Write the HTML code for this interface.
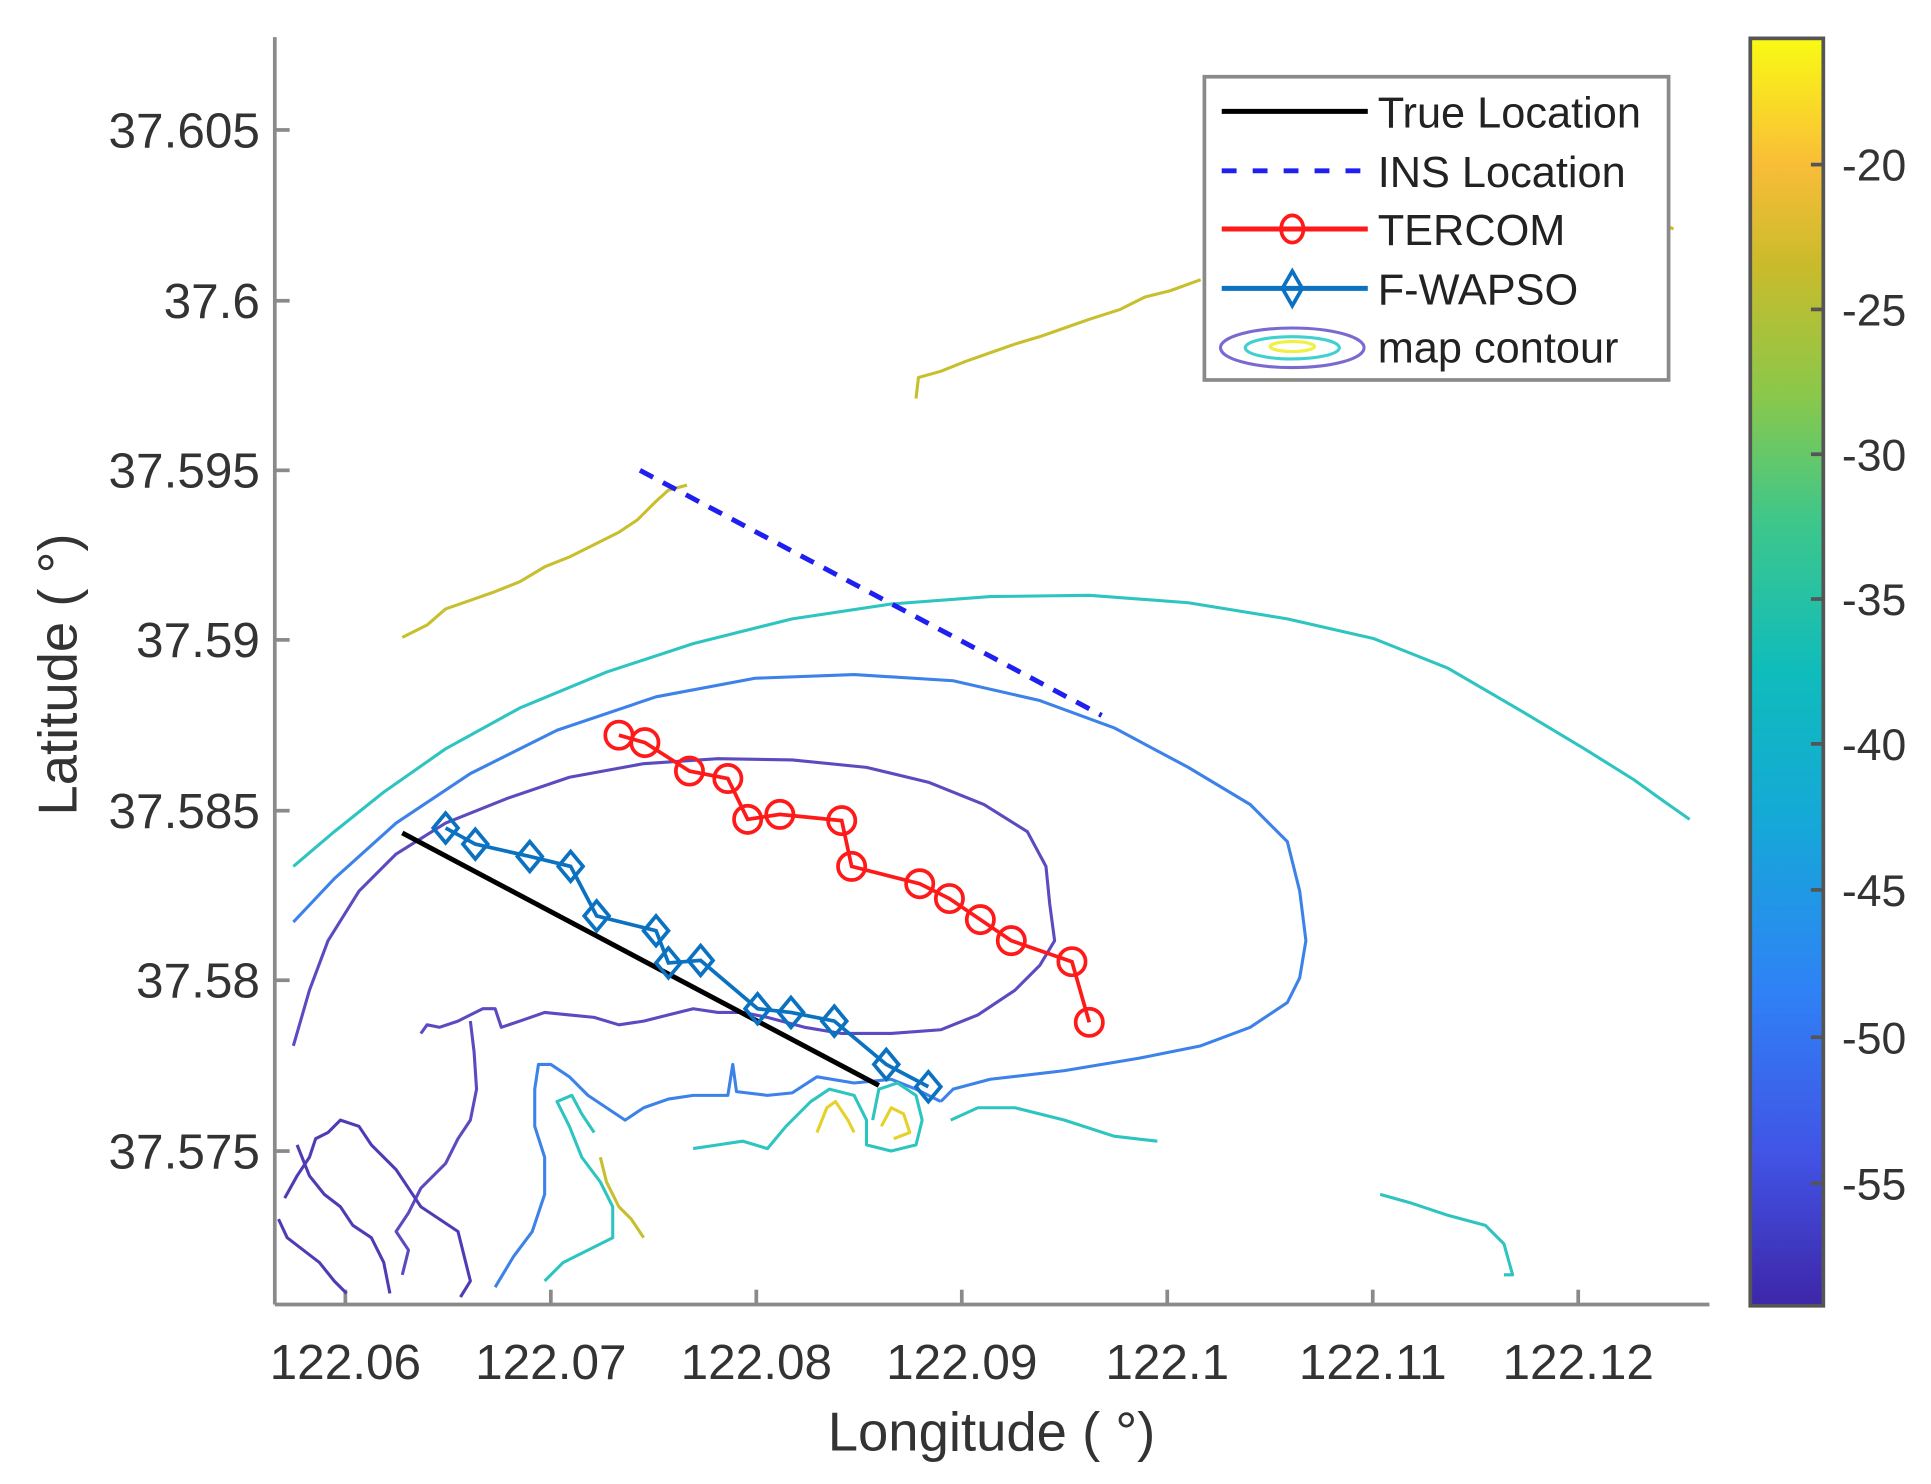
<!DOCTYPE html>
<html><head><meta charset="utf-8"><style>html,body{margin:0;padding:0;background:#fff;overflow:hidden}svg{display:block}</style></head>
<body>
<svg width="1931" height="1484" viewBox="0 0 1560 1199" preserveAspectRatio="none" xmlns="http://www.w3.org/2000/svg" font-family="Liberation Sans, sans-serif">
<defs>
<linearGradient id="parula" x1="0" y1="1" x2="0" y2="0">
<stop offset="0" stop-color="#3e26a8"/>
<stop offset="0.12" stop-color="#4154e6"/>
<stop offset="0.25" stop-color="#2f82f6"/>
<stop offset="0.38" stop-color="#15a8d8"/>
<stop offset="0.5" stop-color="#0fbcbc"/>
<stop offset="0.62" stop-color="#3ec78a"/>
<stop offset="0.72" stop-color="#8bc84a"/>
<stop offset="0.82" stop-color="#c9bb2b"/>
<stop offset="0.9" stop-color="#f9bd38"/>
<stop offset="1" stop-color="#f9fa14"/>
</linearGradient>
</defs>
<rect width="1560" height="1199" fill="#fff"/>
<g stroke="#8a8a8a" stroke-width="3" fill="none">
<line x1="222" y1="30" x2="222" y2="1054"/>
<line x1="222" y1="1054" x2="1381" y2="1054"/>
</g>
<g stroke="#8a8a8a" stroke-width="3">
<line x1="222" y1="105" x2="234" y2="105"/><line x1="222" y1="243" x2="234" y2="243"/><line x1="222" y1="380" x2="234" y2="380"/><line x1="222" y1="517" x2="234" y2="517"/><line x1="222" y1="655" x2="234" y2="655"/><line x1="222" y1="792" x2="234" y2="792"/><line x1="222" y1="930" x2="234" y2="930"/>
<line x1="279" y1="1054" x2="279" y2="1042"/><line x1="445" y1="1054" x2="445" y2="1042"/><line x1="611" y1="1054" x2="611" y2="1042"/><line x1="777" y1="1054" x2="777" y2="1042"/><line x1="943" y1="1054" x2="943" y2="1042"/><line x1="1109" y1="1054" x2="1109" y2="1042"/><line x1="1275" y1="1054" x2="1275" y2="1042"/>
</g>
<g fill="#333" font-size="40" text-anchor="end">
<text x="210" y="119">37.605</text><text x="210" y="257">37.6</text><text x="210" y="394">37.595</text><text x="210" y="531">37.59</text><text x="210" y="669">37.585</text><text x="210" y="806">37.58</text><text x="210" y="944">37.575</text>
</g>
<g fill="#333" font-size="40" text-anchor="middle">
<text x="279" y="1114">122.06</text><text x="445" y="1114">122.07</text><text x="611" y="1114">122.08</text><text x="777" y="1114">122.09</text><text x="943" y="1114">122.1</text><text x="1109" y="1114">122.11</text><text x="1275" y="1114">122.12</text>
</g>
<text x="801" y="1172" fill="#333" font-size="44" text-anchor="middle">Longitude ( °)</text>
<text transform="translate(62,545) rotate(-90)" fill="#333" font-size="44" text-anchor="middle">Latitude ( °)</text>

<g fill="none" stroke-width="2.5" stroke-linejoin="round">
<polyline stroke="#c8bf2e" points="325,515 345,505 360,492 380,485 400,478 420,470 440,458 460,450 480,440 500,430 515,420 530,405 540,396 555,392"/>
<polyline stroke="#c8bf2e" points="740,322 742,305 760,300 780,292 800,285 820,278 840,272 860,265 880,258 905,250 925,240 945,235 970,226"/>
<polyline stroke="#c8bf2e" points="1345,182 1352,185"/>
<polyline stroke="#2ec4c0" points="237,700 270,672 310,640 360,605 420,572 490,543 560,520 640,500 720,488 800,482 880,481 960,487 1040,500 1110,516 1170,540 1230,575 1280,605 1320,630 1345,648 1365,662"/>
<polyline stroke="#3d82e8" points="237,745 270,710 320,665 380,625 450,590 530,563 610,548 690,545 770,550 840,566 900,588 960,620 1010,650 1040,680 1050,720 1055,760 1050,790 1040,810 1010,830 970,845 920,855 860,865 800,872 770,880 760,890"/>
<polyline stroke="#3d82e8" points="760,890 740,880 720,872 690,875 660,870 640,883 620,885 595,882 592,860 588,885 560,885 540,888 520,895 505,905 490,895 475,885 460,870 445,860 435,860 432,880 432,910 440,935 440,965 430,995 415,1015 400,1040"/>
<polyline stroke="#5a4bc0" points="237,845 250,800 265,760 290,720 320,690 360,665 410,645 460,628 520,617 580,613 640,614 700,620 750,632 795,650 830,672 845,700 848,730 852,760 840,780 820,800 790,820 760,832 720,835 680,835 650,830 620,822 600,818"/>
<polyline stroke="#5a4bc0" points="600,818 580,818 560,815 540,820 520,825 500,828 480,822 460,820 440,818 420,825 405,830 400,815 390,815 380,820 370,825 355,830 345,828 340,835"/>
<polyline stroke="#5a4bc0" points="380,825 383,850 385,880 380,905 370,920 360,940 340,960 330,980 320,995 330,1010 325,1030"/>
<polyline stroke="#4e3cb5" points="230,968 240,950 250,935 255,920 265,915 275,905 290,910 300,925 310,935 320,945 330,960 340,975 355,985 370,995 375,1015 380,1035 372,1048"/>
<polyline stroke="#4e3cb5" points="225,985 232,1000 245,1010 258,1020 270,1035 280,1045"/>
<polyline stroke="#4e3cb5" points="240,925 250,950 262,965 275,975 285,990 300,1000 310,1020 315,1045"/>
<polyline stroke="#2ec4c0" points="440,1035 455,1020 475,1010 495,1000 495,975 485,955 470,935 460,910 450,890 462,885 470,900 480,915"/>
<polyline stroke="#2ec4c0" points="560,928 580,925 600,922 620,928 635,910 655,890 670,880 690,885 700,905 700,925 720,930 740,925 745,905 740,885 725,875 710,880 705,905"/>
<polyline stroke="#2ec4c0" points="768,905 790,895 820,895 860,905 900,918 935,922"/>
<polyline stroke="#e6d02a" points="660,915 668,895 675,890 685,905 690,915"/>
<polyline stroke="#e6d02a" points="712,910 720,895 730,900 735,915 722,920"/>
<polyline stroke="#c8bf2e" points="485,935 490,955 500,975 510,985 520,1000"/>
<polyline stroke="#2ec4c0" points="1115,965 1140,972 1170,982 1200,990 1215,1005 1222,1030 1215,1030"/>
</g>

<line x1="517" y1="380" x2="890" y2="578" stroke="#1f1ff0" stroke-width="4" stroke-dasharray="12,9"/>
<line x1="325" y1="673" x2="710" y2="877" stroke="#000" stroke-width="4"/>
<g stroke="#ff1a1a" stroke-width="3" fill="none">
<polyline points="500,594 521,600 557,623 588,629 604,662 630,658 680,663 688,700 743,714 767,726 792,743 817,760 866,777 880,826"/>
<circle cx="500" cy="594" r="11"/><circle cx="521" cy="600" r="11"/><circle cx="557" cy="623" r="11"/><circle cx="588" cy="629" r="11"/><circle cx="604" cy="662" r="11"/><circle cx="630" cy="658" r="11"/><circle cx="680" cy="663" r="11"/><circle cx="688" cy="700" r="11"/><circle cx="743" cy="714" r="11"/><circle cx="767" cy="726" r="11"/><circle cx="792" cy="743" r="11"/><circle cx="817" cy="760" r="11"/><circle cx="866" cy="777" r="11"/><circle cx="880" cy="826" r="11"/>
</g>
<g stroke="#0a72c0" stroke-width="3" fill="none">
<polyline points="360,669 384,682 428,692 461,700 482,740 530,752 540,778 566,776 612,815 639,818 674,825 716,860 750,878"/>
<path d="M360,657 l10,12 l-10,12 l-10,-12z M384,670 l10,12 l-10,12 l-10,-12z M428,680 l10,12 l-10,12 l-10,-12z M461,688 l10,12 l-10,12 l-10,-12z M482,728 l10,12 l-10,12 l-10,-12z M530,740 l10,12 l-10,12 l-10,-12z M540,766 l10,12 l-10,12 l-10,-12z M566,764 l10,12 l-10,12 l-10,-12z M612,803 l10,12 l-10,12 l-10,-12z M639,806 l10,12 l-10,12 l-10,-12z M674,813 l10,12 l-10,12 l-10,-12z M716,848 l10,12 l-10,12 l-10,-12z M750,866 l10,12 l-10,12 l-10,-12z"/>
</g>

<rect x="973" y="62" width="375" height="245" fill="#fff" stroke="#8a8a8a" stroke-width="3"/>
<g font-size="35" fill="#222">
<text x="1113" y="103">True Location</text>
<text x="1113" y="151">INS Location</text>
<text x="1113" y="198">TERCOM</text>
<text x="1113" y="246">F-WAPSO</text>
<text x="1113" y="293">map contour</text>
</g>
<line x1="987" y1="90" x2="1105" y2="90" stroke="#000" stroke-width="4"/>
<line x1="987" y1="138" x2="1105" y2="138" stroke="#1f1ff0" stroke-width="4" stroke-dasharray="12,13"/>
<line x1="987" y1="185" x2="1105" y2="185" stroke="#ff1a1a" stroke-width="4"/>
<ellipse cx="1044" cy="185" rx="9" ry="11" fill="none" stroke="#ff1a1a" stroke-width="3"/>
<line x1="987" y1="233" x2="1105" y2="233" stroke="#0a72c0" stroke-width="4"/>
<path d="M1044,219 l8,14 l-8,14 l-8,-14z" fill="none" stroke="#0a72c0" stroke-width="3"/>
<ellipse cx="1044" cy="281" rx="58" ry="16" fill="none" stroke="#7a6ad0" stroke-width="2.5"/>
<ellipse cx="1044" cy="281" rx="38" ry="9" fill="none" stroke="#40d0d0" stroke-width="2.5"/>
<ellipse cx="1044" cy="280" rx="18" ry="4" fill="none" stroke="#f0f040" stroke-width="2.5"/>

<rect x="1414" y="31" width="59" height="1024" fill="url(#parula)" stroke="#555" stroke-width="3"/>
<g stroke="#555" stroke-width="3">
<line x1="1463" y1="133" x2="1473" y2="133"/><line x1="1463" y1="250" x2="1473" y2="250"/><line x1="1463" y1="367" x2="1473" y2="367"/><line x1="1463" y1="484" x2="1473" y2="484"/><line x1="1463" y1="601" x2="1473" y2="601"/><line x1="1463" y1="719" x2="1473" y2="719"/><line x1="1463" y1="838" x2="1473" y2="838"/><line x1="1463" y1="956" x2="1473" y2="956"/>
</g>
<g font-size="36" fill="#333">
<text x="1488" y="146">-20</text><text x="1488" y="263">-25</text><text x="1488" y="380">-30</text><text x="1488" y="497">-35</text><text x="1488" y="614">-40</text><text x="1488" y="732">-45</text><text x="1488" y="851">-50</text><text x="1488" y="969">-55</text>
</g>
</svg>
</body></html>
